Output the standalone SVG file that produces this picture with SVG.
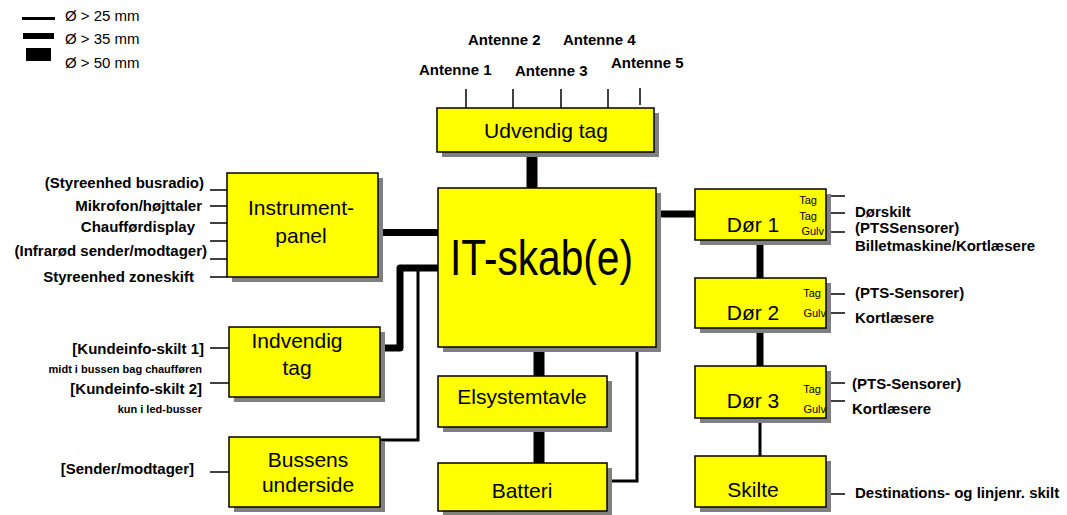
<svg xmlns="http://www.w3.org/2000/svg" width="1067" height="515" viewBox="0 0 1067 515">
<style>
.box{fill:#ffff00;stroke:#000;stroke-width:1.5}
.sh{fill:#808080}
.t{font-family:"Liberation Sans",Arial,sans-serif;fill:#000}
.title{font-size:21px;text-anchor:middle}
.lbl{font-size:15px;font-weight:bold}
.sm{font-size:11px}
.tiny{font-size:11px;font-weight:bold}
.thin{stroke:#000;stroke-width:1.5;fill:none}
.c25{stroke:#000;stroke-width:3;fill:none}
.c35{stroke:#000;stroke-width:7;fill:none;stroke-linejoin:round}
.c50{stroke:#000;stroke-width:11;fill:none}
</style>
<rect width="1067" height="515" fill="#fff"/>

<g id="legend">
<line x1="22" y1="18.5" x2="55" y2="18.5" stroke="#000" stroke-width="3"/>
<line x1="23" y1="36" x2="54" y2="36" stroke="#000" stroke-width="6"/>
<rect x="26" y="48" width="25" height="13" fill="#000"/>
<text class="t" x="65" y="21" font-size="15">Ø &gt; 25 mm</text>
<text class="t" x="65" y="44" font-size="15">Ø &gt; 35 mm</text>
<text class="t" x="65" y="68" font-size="15">Ø &gt; 50 mm</text>
</g>

<g id="connectors">
<line class="c50" x1="532" y1="152" x2="532" y2="188"/>
<line class="c50" x1="539" y1="347" x2="539" y2="376"/>
<line class="c50" x1="539" y1="427" x2="539" y2="463"/>
<path class="c25" d="M637,347 V481 H607"/>
<line class="c35" x1="378" y1="232.5" x2="438" y2="232.5"/>
<path class="c35" d="M438,268 H400 V348 H380"/>
<path class="c25" d="M418,268 V440 H380"/>
<line class="c35" x1="656" y1="214" x2="695" y2="214"/>
<line class="c35" x1="760" y1="240" x2="760" y2="278"/>
<line class="c35" x1="760" y1="328" x2="760" y2="366"/>
<line class="c25" x1="760" y1="418" x2="760" y2="456"/>
<!-- antennas -->
<line class="thin" x1="466" y1="89" x2="466" y2="108"/>
<line class="thin" x1="513" y1="89" x2="513" y2="108"/>
<line class="thin" x1="561" y1="89" x2="561" y2="108"/>
<line class="thin" x1="608" y1="89" x2="608" y2="108"/>
<line class="thin" x1="640" y1="88" x2="640" y2="105"/>
<!-- instrument panel leads -->
<line class="thin" x1="210" y1="190" x2="227" y2="190"/>
<line class="thin" x1="210" y1="206" x2="227" y2="206"/>
<line class="thin" x1="210" y1="223" x2="227" y2="223"/>
<line class="thin" x1="210" y1="241" x2="227" y2="241"/>
<line class="thin" x1="210" y1="259" x2="227" y2="259"/>
<line class="thin" x1="210" y1="277" x2="227" y2="277"/>
<!-- indvendig leads -->
<line class="thin" x1="210" y1="348" x2="229" y2="348"/>
<line class="thin" x1="210" y1="383" x2="229" y2="383"/>
<line class="thin" x1="210" y1="472" x2="229" y2="472"/>
<!-- door leads -->
<line class="thin" x1="826" y1="196" x2="845" y2="196"/>
<line class="thin" x1="826" y1="213" x2="845" y2="213"/>
<line class="thin" x1="826" y1="232" x2="845" y2="232"/>
<line class="thin" x1="826" y1="294" x2="845" y2="294"/>
<line class="thin" x1="826" y1="313" x2="845" y2="313"/>
<line class="thin" x1="826" y1="383" x2="845" y2="383"/>
<line class="thin" x1="826" y1="401" x2="845" y2="401"/>
<line class="thin" x1="826" y1="494" x2="845" y2="494"/>
</g>

<g id="antenna-labels">
<text class="t lbl" x="419" y="75">Antenne 1</text>
<text class="t lbl" x="468" y="45">Antenne 2</text>
<text class="t lbl" x="515" y="76">Antenne 3</text>
<text class="t lbl" x="563" y="45">Antenne 4</text>
<text class="t lbl" x="611" y="68">Antenne 5</text>
</g>

<g id="udvendig-tag">
<rect class="sh" x="442" y="113" width="217" height="44"/>
<rect class="box" x="437" y="108" width="217" height="44"/>
<text class="t title" x="546" y="138">Udvendig tag</text>
</g>

<g id="it-skab">
<rect class="sh" x="443" y="193" width="218" height="159"/>
<rect class="box" x="438" y="188" width="218" height="159"/>
<text class="t" x="450" y="275" font-size="50" textLength="183" lengthAdjust="spacingAndGlyphs">IT-skab(e)</text>
</g>

<g id="elsystemtavle">
<rect class="sh" x="443" y="381" width="169" height="51"/>
<rect class="box" x="438" y="376" width="169" height="51"/>
<text class="t title" x="522" y="404">Elsystemtavle</text>
</g>

<g id="batteri">
<rect class="sh" x="443" y="468" width="169" height="48"/>
<rect class="box" x="438" y="463" width="169" height="48"/>
<text class="t title" x="522" y="498">Batteri</text>
</g>

<g id="instrumentpanel">
<rect class="sh" x="232" y="178" width="151" height="104"/>
<rect class="box" x="227" y="173" width="151" height="104"/>
<text class="t title" x="301" y="215" font-size="22">Instrument-</text>
<text class="t title" x="301" y="243" font-size="22">panel</text>
<text class="t lbl" x="204" y="188" text-anchor="end">(Styreenhed busradio)</text>
<text class="t lbl" x="202" y="211" text-anchor="end">Mikrofon/højttaler</text>
<text class="t lbl" x="195" y="232" text-anchor="end">Chaufførdisplay</text>
<text class="t lbl" x="207" y="256" text-anchor="end">(Infrarød sender/modtager)</text>
<text class="t lbl" x="194" y="282" text-anchor="end">Styreenhed zoneskift</text>
</g>

<g id="indvendig-tag">
<rect class="sh" x="234" y="332" width="151" height="70"/>
<rect class="box" x="229" y="327" width="151" height="70"/>
<text class="t title" x="297" y="348" font-size="22">Indvendig</text>
<text class="t title" x="297" y="375" font-size="22">tag</text>
<text class="t lbl" x="204" y="354" text-anchor="end">[Kundeinfo-skilt 1]</text>
<text class="t tiny" x="202" y="373" text-anchor="end">midt i bussen bag chaufføren</text>
<text class="t lbl" x="202" y="394" text-anchor="end">[Kundeinfo-skilt 2]</text>
<text class="t tiny" x="202" y="413" text-anchor="end">kun i led-busser</text>
</g>

<g id="bussens-underside">
<rect class="sh" x="234" y="442" width="151" height="70"/>
<rect class="box" x="229" y="437" width="151" height="70"/>
<text class="t title" x="308" y="467" font-size="22">Bussens</text>
<text class="t title" x="308" y="492" font-size="22">underside</text>
<text class="t lbl" x="194" y="474" text-anchor="end">[Sender/modtager]</text>
</g>

<g id="dor1">
<rect class="sh" x="700" y="194" width="131" height="51"/>
<rect class="box" x="695" y="189" width="131" height="51"/>
<text class="t title" x="753" y="232">Dør 1</text>
<text class="t sm" x="817" y="204" text-anchor="end">Tag</text>
<text class="t sm" x="817" y="220" text-anchor="end">Tag</text>
<text class="t sm" x="824" y="235" text-anchor="end">Gulv</text>
<text class="t lbl" x="855" y="217">Dørskilt</text>
<text class="t lbl" x="855" y="233">(PTSSensorer)</text>
<text class="t lbl" x="855" y="251">Billetmaskine/Kortlæsere</text>
</g>

<g id="dor2">
<rect class="sh" x="700" y="283" width="131" height="50"/>
<rect class="box" x="695" y="278" width="131" height="50"/>
<text class="t title" x="753" y="320">Dør 2</text>
<text class="t sm" x="821" y="297" text-anchor="end">Tag</text>
<text class="t sm" x="826" y="317" text-anchor="end">Gulv</text>
<text class="t lbl" x="855" y="298">(PTS-Sensorer)</text>
<text class="t lbl" x="855" y="323">Kortlæsere</text>
</g>

<g id="dor3">
<rect class="sh" x="700" y="371" width="131" height="52"/>
<rect class="box" x="695" y="366" width="131" height="52"/>
<text class="t title" x="753" y="408">Dør 3</text>
<text class="t sm" x="821" y="393" text-anchor="end">Tag</text>
<text class="t sm" x="826" y="413" text-anchor="end">Gulv</text>
<text class="t lbl" x="852" y="389">(PTS-Sensorer)</text>
<text class="t lbl" x="852" y="414">Kortlæsere</text>
</g>

<g id="skilte">
<rect class="sh" x="700" y="461" width="131" height="51"/>
<rect class="box" x="695" y="456" width="131" height="51"/>
<text class="t title" x="753" y="497">Skilte</text>
<text class="t lbl" x="855" y="498">Destinations- og linjenr. skilt</text>
</g>
</svg>
